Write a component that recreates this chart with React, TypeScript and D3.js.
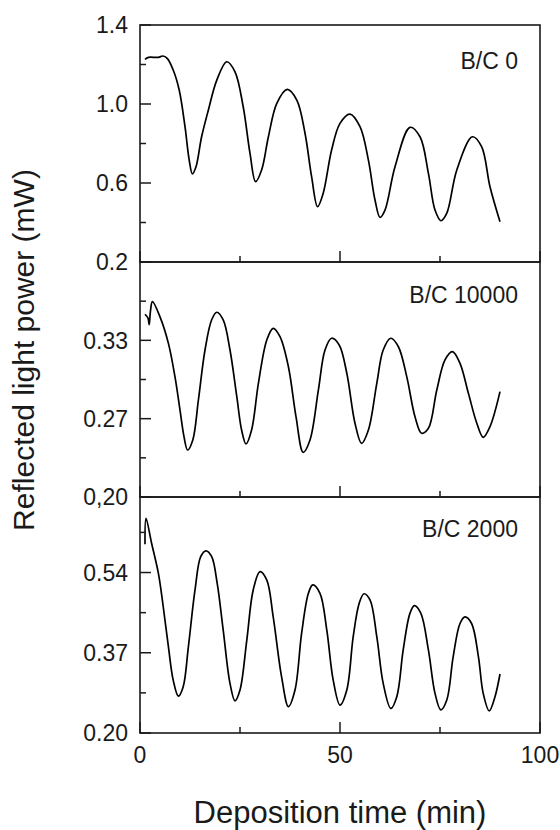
import React from 'react';
import * as d3 from 'd3';

// ---- data (time in min, reflected power in mW) ----
const xLabeledTicks = [0, 50, 100];
const xMinorTicks = [25, 75];

const bc0Data: [number, number][] = [
  [1.25, 1.226], [2.1, 1.236], [4.6, 1.236], [5.7, 1.243], [6.8, 1.231], [8.3, 1.172],
  [9.8, 1.071], [11.25, 0.885], [12.3, 0.716], [13.1, 0.646], [14.0, 0.682], [15.4, 0.834],
  [17.1, 0.97], [19.2, 1.121], [21.7, 1.214], [23.75, 1.163], [25.8, 0.986], [27.5, 0.75],
  [28.9, 0.607], [30.4, 0.666], [32.1, 0.834], [34.2, 1.003], [36.8, 1.074], [39.2, 1.02],
  [41.25, 0.852], [42.9, 0.632], [44.4, 0.48], [45.8, 0.548], [47.9, 0.767], [50.0, 0.902],
  [52.5, 0.949], [55.0, 0.885], [57.1, 0.716], [58.75, 0.514], [60.0, 0.426], [61.25, 0.463],
  [63.75, 0.682], [67.5, 0.882], [70.0, 0.834], [72.1, 0.649], [73.75, 0.463], [75.25, 0.409],
  [76.7, 0.447], [79.2, 0.666], [83.1, 0.834], [85.4, 0.784], [87.5, 0.581], [90.0, 0.404],
];

const bc10000Data: [number, number][] = [
  [1.25, 0.350], [2.0, 0.347], [2.3, 0.342], [2.6, 0.352], [3.1, 0.3596], [5.0, 0.348],
  [7.1, 0.3277], [8.75, 0.302], [10.0, 0.2766], [11.0, 0.2562], [11.9, 0.246], [13.2, 0.2537],
  [14.6, 0.2843], [16.25, 0.3226], [17.9, 0.3456], [19.2, 0.3515], [20.8, 0.3456], [22.5, 0.3226],
  [24.2, 0.2868], [25.4, 0.2613], [26.5, 0.2506], [27.9, 0.2613], [29.6, 0.2971], [31.7, 0.3303],
  [33.3, 0.3392], [35.0, 0.3328], [37.1, 0.3098], [39.0, 0.2715], [40.8, 0.2442], [42.5, 0.2537],
  [44.6, 0.292], [46.25, 0.3226], [47.9, 0.3316], [49.8, 0.3264], [51.7, 0.3048], [53.75, 0.2665],
  [55.4, 0.2511], [57.1, 0.2613], [59.2, 0.2971], [60.8, 0.3226], [62.7, 0.3316], [64.6, 0.3251],
  [66.7, 0.302], [68.75, 0.2715], [70.4, 0.2588], [72.1, 0.2626], [74.2, 0.292], [76.25, 0.315],
  [78.1, 0.3213], [80.0, 0.3124], [82.1, 0.2894], [84.2, 0.2665], [85.8, 0.2557], [87.5, 0.2639],
  [90.0, 0.2907],
];

const bc2000Data: [number, number][] = [
  [1.25, 0.60], [1.5, 0.655], [2.9, 0.602], [4.6, 0.538], [5.8, 0.468], [7.1, 0.383],
  [8.3, 0.312], [9.6, 0.278], [10.8, 0.298], [12.1, 0.383], [13.75, 0.503], [15.2, 0.574],
  [16.5, 0.586], [17.9, 0.574], [19.3, 0.517], [20.8, 0.418], [22.5, 0.305], [23.75, 0.268],
  [25.0, 0.291], [26.7, 0.397], [28.3, 0.503], [30.0, 0.542], [31.7, 0.524], [33.3, 0.446],
  [35.4, 0.319], [37.1, 0.256], [38.75, 0.291], [40.4, 0.411], [42.1, 0.496], [43.2, 0.514],
  [45.0, 0.496], [46.7, 0.418], [48.3, 0.312], [50.0, 0.259], [51.7, 0.291], [53.3, 0.404],
  [54.8, 0.475], [56.0, 0.495], [57.5, 0.482], [59.2, 0.404], [60.8, 0.305], [62.7, 0.252],
  [64.2, 0.277], [65.8, 0.376], [67.5, 0.454], [68.6, 0.470], [70.2, 0.454], [72.1, 0.376],
  [73.75, 0.284], [75.2, 0.249], [76.7, 0.270], [78.3, 0.362], [80.0, 0.432], [81.25, 0.446],
  [82.9, 0.432], [84.6, 0.362], [85.8, 0.284], [87.3, 0.247], [88.75, 0.277], [90.0, 0.325],
];

const bc0Ticks = [0.2, 0.6, 1.0, 1.4];
const bc0TickLabels = ['0.2', '0.6', '1.0', '1.4'];
const bc0Minor = [0.4, 0.8, 1.2];

const bc10000Ticks = [0.21, 0.27, 0.33];
const bc10000TickLabels = ['0,20', '0.27', '0.33'];
const bc10000Minor = [0.24, 0.30, 0.36];

const bc2000Ticks = [0.20, 0.37, 0.54];
const bc2000TickLabels = ['0.20', '0.37', '0.54'];
const bc2000Minor = [0.285, 0.455, 0.625];

// ---- layout ----
const W = 560;
const H = 830;
const X0 = 140;
const X1 = 540;
const FONT = '"Liberation Sans", Arial, Helvetica, sans-serif';
const INK = '#1a1a1a';

const panels = [
  { label: 'B/C 0', data: bc0Data, domain: [0.2, 1.4], top: 25, bottom: 262, ticks: bc0Ticks, labels: bc0TickLabels, minor: bc0Minor, labelDy: 44 },
  { label: 'B/C 10000', data: bc10000Data, domain: [0.21, 0.39], top: 262, bottom: 497, ticks: bc10000Ticks, labels: bc10000TickLabels, minor: bc10000Minor, labelDy: 41 },
  { label: 'B/C 2000', data: bc2000Data, domain: [0.2, 0.7], top: 497, bottom: 733, ticks: bc2000Ticks, labels: bc2000TickLabels, minor: bc2000Minor, labelDy: 40 },
];

export default function App() {
  const x = d3.scaleLinear().domain([0, 100]).range([X0, X1]);

  return (
    <svg width={W} height={H} style={{ position: 'absolute', left: 0, top: 0, background: '#fff' }} fontFamily={FONT}>
      <rect x={0} y={0} width={W} height={H} fill="#fff" />
      {panels.map((p, i) => {
        const y = d3.scaleLinear().domain(p.domain).range([p.bottom, p.top]);
        const line = d3
          .line<[number, number]>()
          .x((d) => x(d[0]))
          .y((d) => y(d[1]))
          .curve(d3.curveCatmullRom.alpha(0.5));
        return (
          <g key={i}>
            <path d={line(p.data) || ''} fill="none" stroke="#000" strokeWidth={1.7} strokeLinejoin="round" />
            {p.ticks.map((t) => (
              <line key={'mj' + t} x1={X0} x2={X0 + 11} y1={y(t)} y2={y(t)} stroke={INK} strokeWidth={1.5} />
            ))}
            {p.minor.map((t) => (
              <line key={'mn' + t} x1={X0} x2={X0 + 6} y1={y(t)} y2={y(t)} stroke={INK} strokeWidth={1.5} />
            ))}
            {p.ticks.map((t, k) => (
              <text key={'tl' + t} x={128} y={y(t)} dy="0.36em" textAnchor="end" fontSize={23} fill={INK}>
                {p.labels[k]}
              </text>
            ))}
            {xLabeledTicks.map((t) => (
              <line key={'xm' + t} x1={x(t)} x2={x(t)} y1={p.bottom} y2={p.bottom - 11} stroke={INK} strokeWidth={1.5} />
            ))}
            {xMinorTicks.map((t) => (
              <line key={'xn' + t} x1={x(t)} x2={x(t)} y1={p.bottom} y2={p.bottom - 6} stroke={INK} strokeWidth={1.5} />
            ))}
            <rect x={X0} y={p.top} width={X1 - X0} height={p.bottom - p.top} fill="none" stroke={INK} strokeWidth={1.6} />
            <text x={518} y={p.top + p.labelDy} textAnchor="end" fontSize={23} fill={INK}>
              {p.label}
            </text>
          </g>
        );
      })}
      {xLabeledTicks.map((t) => (
        <text key={'xl' + t} x={x(t)} y={763} textAnchor="middle" fontSize={23} fill={INK}>
          {t}
        </text>
      ))}
      <text x={340} y={823} textAnchor="middle" fontSize={31} fill={INK}>
        Deposition time (min)
      </text>
      <text transform="translate(34,350) rotate(-90)" textAnchor="middle" fontSize={30} fill={INK}>
        Reflected light power (mW)
      </text>
    </svg>
  );
}
